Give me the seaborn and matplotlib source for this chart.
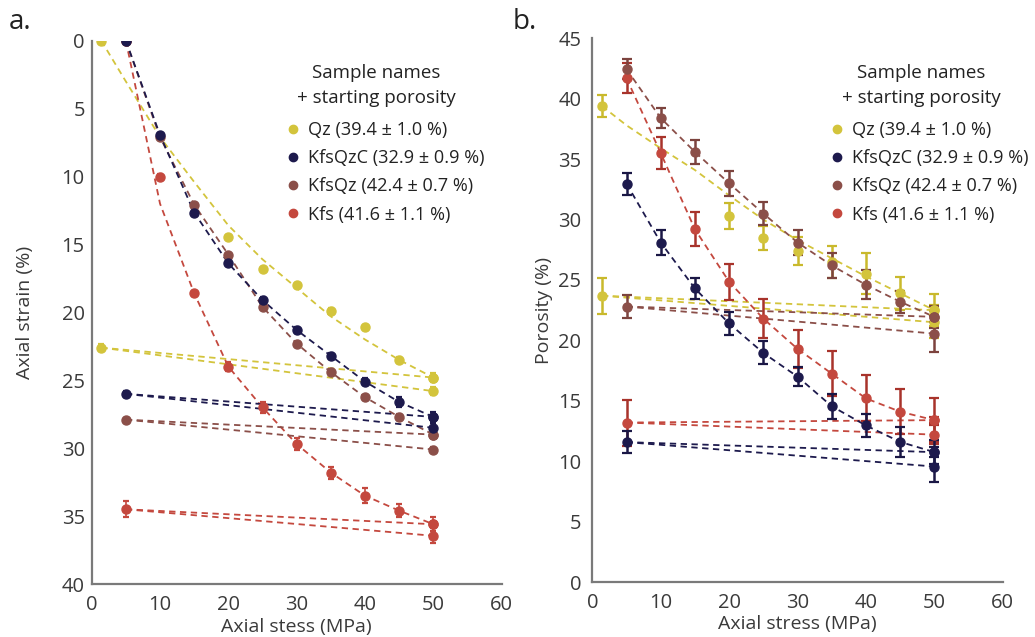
import numpy as np
import matplotlib
matplotlib.use('agg')
import matplotlib.pyplot as plt
from matplotlib.lines import Line2D
import seaborn as sns

# sample names, legend text and colours
samples = ['Qz', 'KfsQzC', 'KfsQz', 'Kfs']
legend_labels = ['Qz (39.4 ± 1.0 %)', 'KfsQzC (32.9 ± 0.9 %)',
                 'KfsQz (42.4 ± 0.7 %)', 'Kfs (41.6 ± 1.1 %)']
colors = {'Qz': '#d3c43c', 'KfsQzC': '#1d1a4d', 'KfsQz': '#8b4f49', 'Kfs': '#c4483e'}

# axial stress steps (MPa)
stress = [5, 10, 15, 20, 25, 30, 35, 40, 45, 50]
qz_stress = [1.4, 20, 25, 30, 35, 40, 45, 50]
qz_fit_stress = [1.4, 5, 10, 15, 20, 25, 30, 35, 40, 45, 50]
kfs_fit_stress = [5, 10, 15, 20, 25, 30, 35, 40, 45, 50]

# ---- panel a: axial strain (%) ----
strain_qz = [0, 14.45, 16.8, 18.0, 19.9, 21.1, 23.5, 24.8]
strain_qz_err = [0.15, 0.15, 0.15, 0.15, 0.2, 0.2, 0.2, 0.3]
strain_qz_fit = [0, 3.0, 7.1, 10.4, 13.6, 16.1, 18.2, 20.3, 22.0, 23.5, 24.8]
strain_kfsqzc = [0, 6.95, 12.65, 16.4, 19.1, 21.3, 23.2, 25.1, 26.6, 27.7]
strain_kfsqzc_err = [0.15, 0.15, 0.15, 0.15, 0.2, 0.2, 0.2, 0.25, 0.35, 0.35]
strain_kfsqz = [0, 7.1, 12.07, 15.75, 19.6, 22.3, 24.4, 26.25, 27.7, 29.0]
strain_kfsqz_err = [0.15, 0.15, 0.15, 0.15, 0.15, 0.15, 0.2, 0.2, 0.2, 0.2]
strain_kfs = [0, 10.0, 18.6, 24.0, 27.0, 29.7, 31.8, 33.5, 34.6, 35.6]
strain_kfs_err = [0.15, 0.15, 0.2, 0.35, 0.4, 0.45, 0.45, 0.55, 0.5, 0.5]
strain_kfs_fit = [0, 12.0, 18.6, 24.0, 27.0, 29.7, 31.8, 33.5, 34.6, 35.6]

# unloading / reloading (start at low stress, two ends at 50 MPa)
strain_unload_start = {'Qz': (1.4, 22.6), 'KfsQzC': (5, 26.0), 'KfsQz': (5, 27.9), 'Kfs': (5, 34.5)}
strain_unload_err = {'Qz': 0.25, 'KfsQzC': 0.2, 'KfsQz': 0.15, 'Kfs': 0.6}
strain_unload_end = {'Qz': [24.8, 25.8], 'KfsQzC': [27.7, 28.5], 'KfsQz': [29.0, 30.1], 'Kfs': [35.6, 36.45]}
strain_unload_end_err = {'Qz': 0.3, 'KfsQzC': 0.35, 'KfsQz': 0.2, 'Kfs': 0.55}

# ---- panel b: porosity (%) ----
por_qz = [39.4, 30.3, 28.5, 27.4, 26.5, 25.5, 23.9, 22.5]
por_qz_err = [0.94, 1.1, 1.0, 1.15, 1.35, 1.7, 1.35, 1.3]
por_qz_fit = [39.4, 37.8, 35.9, 34.1, 32.0, 30.0, 28.3, 26.8, 25.3, 23.9, 22.5]
por_kfsqzc = [32.97, 28.1, 24.3, 21.4, 18.96, 17.0, 14.55, 12.96, 11.6, 10.75]
por_kfsqzc_err = [0.9, 1.0, 0.9, 0.93, 0.95, 0.8, 1.05, 0.97, 1.27, 1.0]
por_kfsqz = [42.45, 38.4, 35.6, 33.0, 30.5, 28.1, 26.2, 24.6, 23.2, 21.95]
por_kfsqz_err = [0.8, 0.8, 1.0, 1.05, 0.93, 1.0, 1.0, 1.2, 0.9, 0.9]
por_kfs = [41.7, 35.5, 29.2, 24.85, 21.8, 19.3, 17.25, 15.2, 14.1, 13.4]
por_kfs_err = [1.25, 1.35, 1.4, 1.5, 1.6, 1.6, 1.85, 1.9, 1.87, 1.8]

por_unload_start = {'Qz': (1.4, 23.7), 'KfsQzC': (5, 11.58), 'KfsQz': (5, 22.8), 'Kfs': (5, 13.2)}
por_unload_err = {'Qz': 1.5, 'KfsQzC': 0.9, 'KfsQz': 0.95, 'Kfs': 1.9}
por_unload_end = {'Qz': [22.5, 21.5], 'KfsQzC': [10.75, 9.56], 'KfsQz': [21.95, 20.56], 'Kfs': [13.4, 12.2]}
por_unload_end_err = {'Qz': 1.3, 'KfsQzC': 1.3, 'KfsQz': 1.5, 'Kfs': 0.8}

sns.set_style('white')
plt.rcParams['font.family'] = ['Open Sans', 'DejaVu Sans']
text_col = '#3a3a3a'
spine_col = '#7a7a7a'
dash = (0, (3.5, 2.5))
# darker shades for the error bars in panel b
bar_colors = {'Qz': '#c9b92c', 'KfsQzC': '#1a1745', 'KfsQz': '#7c433e', 'Kfs': '#a8332b'}


def draw_panel(ax, loading, fits, unload_start, unload_err, unload_end, unload_end_err, big_err):
    # dashed fit / connecting curves
    for name in ['Qz', 'Kfs', 'KfsQz', 'KfsQzC']:
        fx, fy = fits[name]
        sns.lineplot(x=fx, y=fy, ax=ax, color=colors[name], linestyle=dash,
                     linewidth=1.3, estimator=None, sort=False)
        sx, sy = unload_start[name]
        for end in unload_end[name]:
            sns.lineplot(x=[sx, 50], y=[sy, end], ax=ax, color=colors[name],
                         linestyle=dash, linewidth=1.3, estimator=None, sort=False)
    # points with error bars
    for name in ['Qz', 'Kfs', 'KfsQz', 'KfsQzC']:
        ecol = bar_colors[name] if big_err else colors[name]
        cap = 3.5 if big_err else 2
        ew = 1.8 if big_err else 1.2
        lx, ly, le = loading[name]
        ax.errorbar(lx, ly, yerr=le, fmt='o', color=colors[name], ecolor=ecol, ms=6.5,
                    elinewidth=ew, capsize=cap, capthick=1.6, zorder=4)
        sx, sy = unload_start[name]
        ax.errorbar([sx], [sy], yerr=[unload_err[name]], fmt='o', color=colors[name], ecolor=ecol,
                    ms=6.5, elinewidth=ew, capsize=cap, capthick=1.6, zorder=4)
        ends = unload_end[name]
        ax.errorbar([50, 50], ends, yerr=[0.3 * unload_end_err[name], unload_end_err[name]],
                    fmt='o', color=colors[name], ecolor=ecol, ms=6.5,
                    elinewidth=ew, capsize=cap, capthick=1.6, zorder=4)


def style_axes(ax):
    sns.despine(ax=ax)
    for s in ['left', 'bottom']:
        ax.spines[s].set_color(spine_col)
        ax.spines[s].set_linewidth(1.6)
    ax.set_xlim(0, 60)
    ax.set_xticks(range(0, 61, 10))
    ax.tick_params(which='both', colors=spine_col, labelcolor=text_col, labelsize=14.5,
                   direction='out', length=5, width=1.3, pad=3)


fig = plt.figure(figsize=(10.35, 6.37), dpi=100)
ax_a = fig.add_axes([0.0886, 0.0832, 0.3961, 0.8529])
ax_b = fig.add_axes([0.5723, 0.0863, 0.3965, 0.8535])

loading_a = {'Qz': (qz_stress, strain_qz, strain_qz_err),
             'KfsQzC': (stress, strain_kfsqzc, strain_kfsqzc_err),
             'KfsQz': (stress, strain_kfsqz, strain_kfsqz_err),
             'Kfs': (stress, strain_kfs, strain_kfs_err)}
fits_a = {'Qz': (qz_fit_stress, strain_qz_fit),
          'KfsQzC': (stress, strain_kfsqzc),
          'KfsQz': (stress, strain_kfsqz),
          'Kfs': (kfs_fit_stress, strain_kfs_fit)}
draw_panel(ax_a, loading_a, fits_a, strain_unload_start, strain_unload_err,
           strain_unload_end, strain_unload_end_err, big_err=False)

loading_b = {'Qz': (qz_stress, por_qz, por_qz_err),
             'KfsQzC': (stress, por_kfsqzc, por_kfsqzc_err),
             'KfsQz': (stress, por_kfsqz, por_kfsqz_err),
             'Kfs': (stress, por_kfs, por_kfs_err)}
fits_b = {'Qz': (qz_fit_stress, por_qz_fit),
          'KfsQzC': (stress, por_kfsqzc),
          'KfsQz': (stress, por_kfsqz),
          'Kfs': (stress, por_kfs)}
draw_panel(ax_b, loading_b, fits_b, por_unload_start, por_unload_err,
           por_unload_end, por_unload_end_err, big_err=True)

# panel a axes (strain axis points down)
style_axes(ax_a)
ax_a.set_ylim(40, 0)
ax_a.set_yticks(range(0, 41, 5))
ax_a.set_yticks(np.linspace(0, 40, 10), minor=True)
ax_a.tick_params(axis='y', which='major', length=0, pad=5)
ax_a.tick_params(axis='y', which='minor', length=5, width=1.3)
ax_a.set_xlabel('Axial stess (MPa)', fontsize=14, color=text_col, labelpad=2)
ax_a.set_ylabel('Axial strain (%)', fontsize=14, color=text_col, labelpad=20)

# panel b axes
style_axes(ax_b)
ax_b.set_ylim(0, 45)
ax_b.set_yticks(range(0, 46, 5))
ax_b.set_xlabel('Axial stress (MPa)', fontsize=14, color=text_col, labelpad=1)
ax_b.set_ylabel('Porosity (%)', fontsize=14, color=text_col, labelpad=4)

handles = [Line2D([], [], marker='o', ls='', color=colors[n], ms=6) for n in samples]
for ax, xpos, title_x in [(ax_a, 288, 376), (ax_b, 832, 921)]:
    leg = ax.legend(handles, legend_labels, loc='upper left',
                    bbox_to_anchor=(xpos / 1035, 1 - 121 / 637),
                    bbox_transform=fig.transFigure, frameon=False, fontsize=13.1,
                    handlelength=0.5, handletextpad=0.6,
                    labelspacing=0.56, borderpad=0, borderaxespad=0)
    for t in leg.get_texts():
        t.set_color('#222222')
    fig.text(title_x / 1035, 1 - 73 / 637, 'Sample names', fontsize=13.5,
             color='#222222', ha='center', va='center')
    fig.text(title_x / 1035, 1 - 98 / 637, '+ starting porosity', fontsize=13.5,
             color='#222222', ha='center', va='center')

fig.text(9 / 1035, 1 - 22 / 637, 'a.', fontsize=20, color='#222222', va='center')
fig.text(513 / 1035, 1 - 22 / 637, 'b.', fontsize=20, color='#222222', va='center')

fig.savefig('out.png', dpi=100)
